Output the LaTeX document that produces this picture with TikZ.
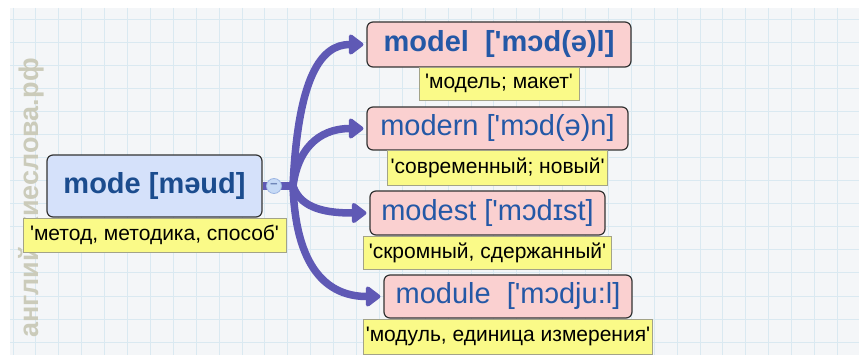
\documentclass[tikz,border=0pt]{standalone}
\usepackage{fontspec}
\setmainfont{Liberation Sans}[Ligatures=TeXOff]
\usetikzlibrary{arrows.meta,positioning}
\definecolor{Paper}{HTML}{F4F6F8}
\definecolor{GridLine}{HTML}{DAE9F1}
\definecolor{RootFill}{HTML}{D5E1FA}
\definecolor{WordFill}{HTML}{FAD0D0}
\definecolor{NoteFill}{HTML}{FAFA88}
\definecolor{NoteLine}{HTML}{A3A388}
\definecolor{Branch}{HTML}{5F59B5}
\definecolor{WordInk}{HTML}{1B4C8E}
\definecolor{WordInkLight}{HTML}{2458A6}
\definecolor{HubFill}{HTML}{C6DAF6}
\definecolor{HubLine}{HTML}{9DB6E2}
\definecolor{HubInk}{HTML}{6F86B8}
\definecolor{Stamp}{HTML}{CBCBBA}

\tikzset{
  wordbox/.style={draw=black!80,line width=1.2pt,rounded corners=6pt,fill=WordFill,
    text=WordInkLight,inner sep=0pt,font=\fontsize{29}{31}\selectfont},
  rootbox/.style={wordbox,fill=RootFill,text=WordInk},
  notebox/.style={draw=NoteLine,line width=0.8pt,fill=NoteFill,inner sep=0pt,
    font=\fontsize{21}{23}\selectfont},
  stem/.style={draw=Branch,line width=7.5pt},
  branch/.style={draw=Branch,line width=7.5pt,line cap=round,
    -{Triangle[length=16pt,width=23pt,round]},shorten >=3pt},
  hubdot/.style={circle,draw=HubLine,line width=0.8pt,fill=HubFill,inner sep=0pt,
    minimum size=15pt,text=HubInk,font=\bfseries\fontsize{13}{13}\selectfont}
}

\begin{document}
\begin{tikzpicture}[x=1pt,y=-1pt]
  \useasboundingbox (0,0) rectangle (859,355);
  \fill[white] (0,0) rectangle (859,355);
  \fill[Paper] (10,8) rectangle (859,355);
  \foreach \gx in {0,...,36}
    \draw[GridLine,line width=1pt] ({13+22.9*\gx},8) -- ({13+22.9*\gx},355);
  \foreach \gy in {0,...,14}
    \draw[GridLine,line width=1pt] (10,{20+23*\gy}) -- (859,{20+23*\gy});
  \node[rotate=90,text=Stamp,font=\bfseries\fontsize{27}{27}\selectfont] (stamp) at (31,198) {английскиеслова.рф};

  % root word
  \node[rootbox,minimum width=215pt,minimum height=62pt] (mode) at (154.5,186) {\bfseries mode [məud]};
  \node[notebox,minimum width=263pt,minimum height=34pt,below=0pt of mode] (modeNote) {'метод, методика, способ'};

  % related words
  \node[wordbox,minimum width=264pt,minimum height=45pt] (model) at (499,44.5) {\bfseries model\ \ ['mɔd(ə)l]};
  \node[notebox,minimum width=160pt,minimum height=33pt,below=-1pt of model] (modelNote) {'модель; макет'};
  \node[wordbox,minimum width=261pt,minimum height=43pt] (modern) at (497.5,128.5) {modern ['mɔd(ə)n]};
  \node[notebox,minimum width=220pt,minimum height=35pt,below=-1pt of modern] (modernNote) {'современный; новый'};
  \node[wordbox,minimum width=235pt,minimum height=44pt] (modest) at (487.5,213) {modest ['mɔdɪst]};
  \node[notebox,minimum width=248pt,minimum height=33pt,below=0pt of modest] (modestNote) {'скромный, сдержанный'};
  \node[wordbox,minimum width=248pt,minimum height=43pt] (module) at (508,296.5) {module\ \ ['mɔdju:l]};
  \node[notebox,minimum width=289pt,minimum height=35pt,below=0pt of module] (moduleNote) {'модуль, единица измерения'};

  % connectors
  \coordinate (hubAt) at (274,186);
  \coordinate (fork) at (293,186);
  \draw[stem] (mode.east) -- (fork);
  \draw[branch] (fork) .. controls +(5,-110) and +(-45,0) .. (model.west);
  \draw[branch] (fork) .. controls +(6,-45) and +(-40,0) .. (modern.west);
  \draw[branch] (fork) .. controls +(8,24) and +(-40,0) .. (modest.west);
  \draw[branch] (fork) .. controls +(3,90) and +(-50,0) .. (module.west);
  \node[hubdot] (hub) at (hubAt) {−};
\end{tikzpicture}
\end{document}
